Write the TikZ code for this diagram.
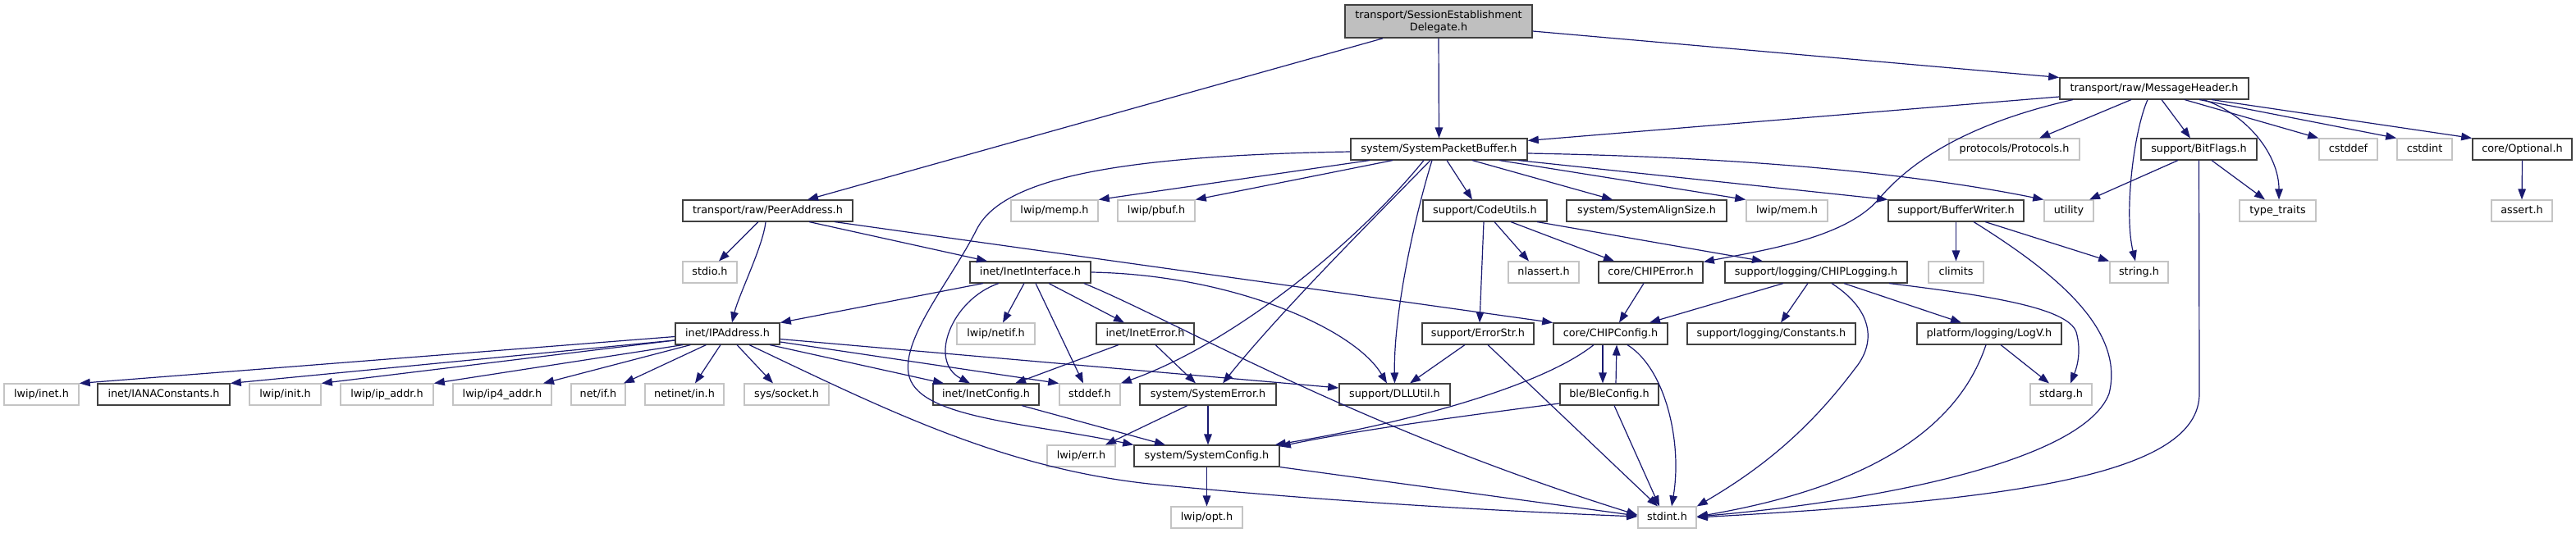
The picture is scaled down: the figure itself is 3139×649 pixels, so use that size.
\documentclass[tikz,border=0pt]{standalone}
\usepackage{fontspec}
\setmainfont{DejaVu Sans}
\usetikzlibrary{arrows.meta}
\definecolor{edgecol}{HTML}{191970}
\definecolor{docborder}{HTML}{404040}
\definecolor{extborder}{HTML}{C4C4C4}
\definecolor{topfill}{HTML}{BFBFBF}
\begin{document}
\begin{tikzpicture}[x=1pt,y=-1pt,
  base/.style={rectangle, fill=white, line width=1.6pt, minimum height=25.5pt, inner sep=0pt,
    font=\fontsize{12.8pt}{15pt}\selectfont},
  oneline/.style={base, text height=9.5pt, text depth=2.6pt},
  doc/.style={oneline, draw=docborder},
  ext/.style={oneline, draw=extborder},
  edge/.style={draw=edgecol, line width=1.2pt, -{Triangle[length=13pt,width=9.5pt]}}]
\fill[white] (0,0) rectangle (3139,649);
\useasboundingbox (0,0) rectangle (3139,649);

% ---------- nodes ----------
\node[base, draw=docborder, fill=topfill, minimum width=228pt, minimum height=40pt, align=center] (sed) at (1753,26) {transport/SessionEstablishment\\Delegate.h};
\node[doc,minimum width=230pt] (mh) at (2625,108) {transport/raw/MessageHeader.h};
\node[doc,minimum width=215pt] (spb) at (1753.5,182) {system/SystemPacketBuffer.h};
\node[ext,minimum width=159pt] (proto) at (2454.5,182) {protocols/Protocols.h};
\node[doc,minimum width=141pt] (bitflags) at (2679.5,182) {support/BitFlags.h};
\node[ext,minimum width=71pt] (cstddef) at (2861.5,182) {cstddef};
\node[ext,minimum width=67pt] (cstdint) at (2954.5,182) {cstdint};
\node[doc,minimum width=121pt] (optional) at (3073.5,182) {core/Optional.h};
\node[doc,minimum width=207pt] (peer) at (935.5,257) {transport/raw/PeerAddress.h};
\node[ext,minimum width=106pt] (memp) at (1285,257) {lwip/memp.h};
\node[ext,minimum width=94pt] (pbuf) at (1409,257) {lwip/pbuf.h};
\node[doc,minimum width=151pt] (codeutils) at (1809.5,257) {support/CodeUtils.h};
\node[doc,minimum width=195pt] (align) at (2006.5,257) {system/SystemAlignSize.h};
\node[ext,minimum width=99pt] (mem) at (2177.5,257) {lwip/mem.h};
\node[doc,minimum width=165pt] (bufwriter) at (2383.5,257) {support/BufferWriter.h};
\node[ext,minimum width=60pt] (utility) at (2521,257) {utility};
\node[ext,minimum width=93pt] (typetraits) at (2775.5,257) {type\_traits};
\node[ext,minimum width=74pt] (assert) at (3073,257) {assert.h};
\node[ext,minimum width=66pt] (stdio) at (865,332) {stdio.h};
\node[doc,minimum width=147pt] (inetif) at (1255.5,332) {inet/InetInterface.h};
\node[ext,minimum width=86pt] (nlassert) at (1881,332) {nlassert.h};
\node[doc,minimum width=127pt] (chiperror) at (2011.5,332) {core/CHIPError.h};
\node[doc,minimum width=222pt] (chiplogging) at (2213,332) {support/logging/CHIPLogging.h};
\node[ext,minimum width=67pt] (climits) at (2383.5,332) {climits};
\node[ext,minimum width=71pt] (stringh) at (2606.5,332) {string.h};
\node[doc,minimum width=127pt] (ipaddr) at (886.5,407) {inet/IPAddress.h};
\node[ext,minimum width=95pt] (netif) at (1213.5,407) {lwip/netif.h};
\node[doc,minimum width=119pt] (ineterror) at (1395.5,407) {inet/InetError.h};
\node[doc,minimum width=136pt] (errorstr) at (1801,407) {support/ErrorStr.h};
\node[doc,minimum width=139pt] (chipconfig) at (1962.5,407) {core/CHIPConfig.h};
\node[doc,minimum width=205pt] (constants) at (2158.5,407) {support/logging/Constants.h};
\node[doc,minimum width=176pt] (logv) at (2424,407) {platform/logging/LogV.h};
\node[ext,minimum width=91pt] (lwipinet) at (50.5,481) {lwip/inet.h};
\node[doc,minimum width=161pt] (iana) at (199.5,481) {inet/IANAConstants.h};
\node[ext,minimum width=87pt] (init) at (347.5,481) {lwip/init.h};
\node[ext,minimum width=113pt] (ipaddrh) at (471.5,481) {lwip/ip\_addr.h};
\node[ext,minimum width=120pt] (ip4addr) at (612,481) {lwip/ip4\_addr.h};
\node[ext,minimum width=66pt] (netifh) at (729,481) {net/if.h};
\node[ext,minimum width=96pt] (netinet) at (834,481) {netinet/in.h};
\node[ext,minimum width=103pt] (socket) at (958.5,481) {sys/socket.h};
\node[doc,minimum width=129pt] (inetconfig) at (1201.5,481) {inet/InetConfig.h};
\node[ext,minimum width=74pt] (stddef) at (1328,481) {stddef.h};
\node[doc,minimum width=166pt] (syserror) at (1472,481) {system/SystemError.h};
\node[doc,minimum width=135pt] (dllutil) at (1699.5,481) {support/DLLUtil.h};
\node[doc,minimum width=120pt] (bleconfig) at (1961,481) {ble/BleConfig.h};
\node[ext,minimum width=75pt] (stdarg) at (2511.5,481) {stdarg.h};
\node[ext,minimum width=83pt] (lwiperr) at (1317.5,556) {lwip/err.h};
\node[doc,minimum width=177pt] (sysconfig) at (1470.5,556) {system/SystemConfig.h};
\node[ext,minimum width=87pt] (opt) at (1470.5,631) {lwip/opt.h};
\node[ext,minimum width=71pt] (stdint) at (2031.5,631) {stdint.h};

% ---------- edges ----------
% SessionEstablishmentDelegate
\draw[edge] ([xshift=-68pt]sed.south) -- ([xshift=48.5pt]peer.north);
\draw[edge] (sed.south) -- (spb.north);
\draw[edge] ([yshift=-12pt]sed.east) -- (mh.north west);
% MessageHeader
\draw[edge] ([yshift=-10pt]mh.west) -- ([yshift=-3pt]spb.north east);
\draw[edge] ([xshift=-99pt]mh.south) .. controls (2400,150) and (2330,195) .. (2290,242) .. controls (2250,290) and (2150,305) .. ([yshift=-1pt]chiperror.north east);
\draw[edge] ([xshift=-28pt]mh.south) -- ([xshift=30.5pt]proto.north);
\draw[edge] ([xshift=-8pt]mh.south) .. controls (2600,160) and (2588,260) .. ([xshift=-4.5pt]stringh.north);
\draw[edge] ([xshift=9pt]mh.south) -- ([xshift=-10.5pt]bitflags.north);
\draw[edge] ([xshift=60pt]mh.south) .. controls (2740,140) and (2777,190) .. ([xshift=1.5pt]typetraits.north);
\draw[edge] ([xshift=37pt]mh.south) -- (cstddef.north west);
\draw[edge] ([xshift=55pt]mh.south) -- (cstdint.north west);
\draw[edge] ([xshift=70pt]mh.south) -- (optional.north west);
% SystemPacketBuffer
\draw[edge] ([yshift=-5pt]spb.east) .. controls (2150,192) and (2350,215) .. (utility.north west);
\draw[edge] ([xshift=96.5pt]spb.south) -- (bufwriter.north west);
\draw[edge] ([xshift=73.5pt]spb.south) -- (mem.north west);
\draw[edge] ([xshift=40.5pt]spb.south) -- ([xshift=-41.5pt]align.north);
\draw[edge] ([xshift=9.5pt]spb.south) -- ([xshift=-15.5pt]codeutils.north);
\draw[edge] ([xshift=-84.5pt]spb.south) -- (memp.north east);
\draw[edge] ([xshift=-56.5pt]spb.south) -- (pbuf.north east);
\draw[edge] ([xshift=-18.5pt]spb.south) .. controls (1650,300) and (1500,420) .. (stddef.north east);
\draw[edge] ([xshift=-10.5pt]spb.south) .. controls (1680,260) and (1560,380) .. ([xshift=18pt]syserror.north);
\draw[edge] ([xshift=-8.5pt]spb.south) .. controls (1725,260) and (1698,380) .. (dllutil.north);
\draw[edge] ([yshift=-3pt]spb.west) .. controls (1350,190) and (1220,220) .. (1190,280) .. controls (1160,340) and (1100,410) .. (1107,455) .. controls (1115,510) and (1250,515) .. (sysconfig.north west);
% PeerAddress
\draw[edge] ([xshift=-11.5pt]peer.south) -- ([xshift=11pt]stdio.north);
\draw[edge] ([xshift=-2.5pt]peer.south) .. controls (930,300) and (900,360) .. ([xshift=5.5pt]ipaddr.north);
\draw[edge] ([xshift=50.5pt]peer.south) -- ([xshift=-52.5pt]inetif.north);
\draw[edge] ([xshift=81.5pt]peer.south) -- (chipconfig.north west);
% InetInterface
\draw[edge] ([xshift=-57.5pt]inetif.south) -- (ipaddr.north east);
\draw[edge] ([xshift=-38.5pt]inetif.south) .. controls (1160,365) and (1130,440) .. ([xshift=-19.5pt]inetconfig.north);
\draw[edge] ([xshift=-7.5pt]inetif.south) -- ([xshift=8.5pt]netif.north);
\draw[edge] ([xshift=6.5pt]inetif.south) -- ([xshift=-8pt]stddef.north);
\draw[edge] ([xshift=22.5pt]inetif.south) -- ([xshift=-25.5pt]ineterror.north);
\draw[edge] (inetif.east) .. controls (1500,335) and (1650,400) .. ([xshift=-9.5pt]dllutil.north);
\draw[edge] ([xshift=-9pt]inetif.south east) .. controls (1430,390) and (1650,520) .. ([yshift=3pt]stdint.west);
% InetError
\draw[edge] ([xshift=-32.5pt]ineterror.south) -- ([xshift=35.5pt]inetconfig.north);
\draw[edge] ([xshift=12.5pt]ineterror.south) -- ([xshift=-15pt]syserror.north);
% SystemError / SystemConfig / InetConfig
\draw[edge] ([xshift=-25pt]syserror.south) -- ([xshift=29.5pt]lwiperr.north);
\draw[edge] (syserror.south) -- ([xshift=1.5pt]sysconfig.north);
\draw[edge] (sysconfig.south) -- (opt.north);
\draw[edge] (sysconfig.south east) -- ([yshift=2pt]stdint.west);
\draw[edge] ([xshift=43.5pt]inetconfig.south) -- ([xshift=-50.5pt]sysconfig.north);
% IPAddress
\draw[edge] ([yshift=-3.5pt]ipaddr.west) -- (lwipinet.north east);
\draw[edge] ([yshift=-8pt]ipaddr.west) -- (iana.north east);
\draw[edge] ([yshift=-8pt]ipaddr.west) -- (init.north east);
\draw[edge] ([xshift=10pt]ipaddr.south west) -- (ipaddrh.north east);
\draw[edge] ([xshift=-45pt]ipaddr.south) -- ([xshift=50pt]ip4addr.north);
\draw[edge] ([xshift=-26pt]ipaddr.south) -- ([xshift=31pt]netifh.north);
\draw[edge] ([xshift=-8.5pt]ipaddr.south) -- ([xshift=13pt]netinet.north);
\draw[edge] ([xshift=11.5pt]ipaddr.south) -- ([xshift=-16.5pt]socket.north);
\draw[edge] ([xshift=26.5pt]ipaddr.south) .. controls (1080,500) and (1220,570) .. (1400,590) .. controls (1600,610) and (1800,622) .. ([yshift=1pt]stdint.west);
\draw[edge] ([xshift=51.5pt]ipaddr.south) -- ([xshift=-51.5pt]inetconfig.north);
\draw[edge] ([yshift=-10pt]ipaddr.east) -- (stddef.north west);
\draw[edge] ([yshift=-6.5pt]ipaddr.east) -- ([yshift=8pt]dllutil.west);
% CodeUtils / ErrorStr
\draw[edge] ([xshift=-1.5pt]codeutils.south) -- ([xshift=2pt]errorstr.north);
\draw[edge] ([xshift=11.5pt]codeutils.south) -- ([xshift=-18pt]nlassert.north);
\draw[edge] ([xshift=31.5pt]codeutils.south) -- ([xshift=-44.5pt]chiperror.north);
\draw[edge] ([xshift=63.5pt]codeutils.south) -- ([xshift=-65pt]chiplogging.north);
\draw[edge] ([xshift=-16pt]errorstr.south) -- ([xshift=18.5pt]dllutil.north);
\draw[edge] ([xshift=12pt]errorstr.south) -- ([xshift=-11.5pt]stdint.north);
% CHIPError / CHIPLogging / LogV
\draw[edge] ([xshift=-8.5pt]chiperror.south) -- ([xshift=10.5pt]chipconfig.north);
\draw[edge] ([xshift=-40pt]chiplogging.south) -- ([xshift=47.5pt]chipconfig.north);
\draw[edge] ([xshift=-10pt]chiplogging.south) -- ([xshift=11.5pt]constants.north);
\draw[edge] ([xshift=19pt]chiplogging.south) .. controls (2285,380) and (2285,420) .. (2260,450) .. controls (2200,530) and (2140,575) .. (stdint.north east);
\draw[edge] ([xshift=34pt]chiplogging.south) -- ([xshift=-34pt]logv.north);
\draw[edge] ([xshift=89pt]chiplogging.south) .. controls (2420,360) and (2520,375) .. (2530,405) .. controls (2537,430) and (2530,450) .. ([xshift=11.5pt]stdarg.north);
\draw[edge] ([xshift=14pt]logv.south) -- ([xshift=-14.5pt]stdarg.north);
\draw[edge] ([xshift=-4pt]logv.south) .. controls (2390,510) and (2300,590) .. ([yshift=1pt]stdint.east);
% CHIPConfig / BleConfig
\draw[edge] ([xshift=-9.5pt]chipconfig.south) -- ([xshift=-8pt]bleconfig.north);
\draw[edge] ([xshift=8pt]bleconfig.north) -- ([xshift=7.5pt]chipconfig.south);
\draw[edge] ([xshift=20.5pt]chipconfig.south) .. controls (2030,450) and (2050,540) .. ([xshift=5.5pt]stdint.north);
\draw[edge] ([xshift=-20.5pt]chipconfig.south) .. controls (1880,470) and (1720,515) .. ([xshift=-6pt]sysconfig.north east);
\draw[edge] ([yshift=-11pt]bleconfig.west) .. controls (1800,505) and (1650,525) .. ([yshift=-2pt]sysconfig.north east);
\draw[edge] ([xshift=6pt]bleconfig.south) -- ([xshift=-9.5pt]stdint.north);
% BufferWriter
\draw[edge] (bufwriter.south) -- (climits.north);
\draw[edge] ([xshift=35.5pt]bufwriter.south) -- (stringh.north west);
\draw[edge] ([xshift=21.5pt]bufwriter.south) .. controls (2500,330) and (2590,400) .. (2570,480) .. controls (2540,560) and (2300,610) .. ([yshift=1pt]stdint.east);
% BitFlags / Optional
\draw[edge] ([xshift=-25.5pt]bitflags.south) -- ([xshift=25pt]utility.north);
\draw[edge] ([xshift=15.5pt]bitflags.south) -- ([xshift=-15.5pt]typetraits.north);
\draw[edge] (bitflags.south) -- (2680,480) .. controls (2680,580) and (2450,610) .. (stdint.east);
\draw[edge] (optional.south) -- (assert.north);
\end{tikzpicture}
\end{document}
